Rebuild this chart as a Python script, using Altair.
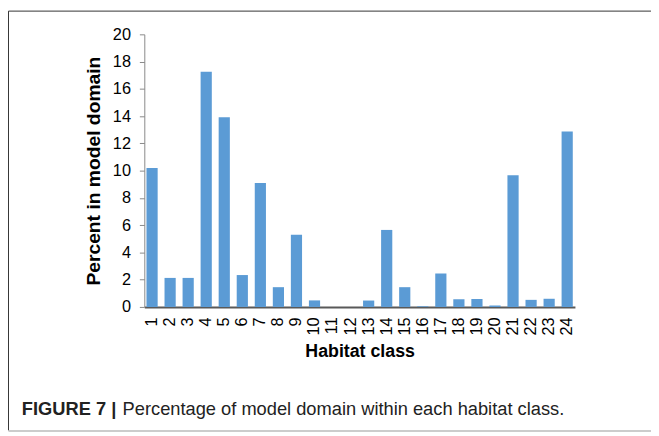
import altair as alt
import pandas as pd

classes = [str(i) for i in range(1, 25)]
percent = [10.2, 2.13, 2.13, 17.25, 13.92, 2.34, 9.09, 1.45, 5.3, 0.48, 0.0, 0.0,
           0.47, 5.65, 1.45, 0.05, 2.45, 0.57, 0.59, 0.1, 9.67, 0.52, 0.6, 12.88]

caption_bold = "FIGURE 7 |"
caption_rest = "Percentage of model domain within each habitat class."

df = pd.DataFrame({"cls": classes, "pct": percent})

W, H = 436, 276
FONT = "Liberation Sans"

bars = alt.Chart(df).mark_bar(color="#5B9BD5").encode(
    x=alt.X("cls:N", sort=classes,
            scale=alt.Scale(paddingInner=0.38, paddingOuter=0.12),
            axis=alt.Axis(title="Habitat class", labelAngle=270, labelFont=FONT,
                          labelFontSize=16.5, labelColor="#000", labelPadding=10,
                          ticks=False, domainColor="#595959", domainWidth=2,
                          titleFont=FONT, titleFontSize=18, titleFontWeight="bold",
                          titleColor="#000", titlePadding=8, labelBaseline="middle")),
    y=alt.Y("pct:Q", scale=alt.Scale(domain=[0, 20], nice=False),
            axis=alt.Axis(title="Percent in model domain", values=list(range(0, 21, 2)),
                          grid=False, labelFont=FONT, labelFontSize=16.5, labelColor="#000",
                          tickSize=5, tickColor="#888", domainColor="#888",
                          labelPadding=9, titleFont=FONT, titleFontSize=19.5,
                          titleFontWeight="bold", titleColor="#000", titlePadding=9)),
)

frame_df = pd.DataFrame({"a": [0]})
left = alt.Chart(frame_df).mark_rule(color="#333", strokeWidth=1).encode(
    x=alt.value(-137.5), y=alt.value(-23.5), y2=alt.value(401))
top = alt.Chart(frame_df).mark_rule(color="#333", strokeWidth=1).encode(
    x=alt.value(-137.5), x2=alt.value(513), y=alt.value(-23.5))
bottom = alt.Chart(frame_df).mark_rule(color="#bbb", strokeWidth=1.5).encode(
    x=alt.value(-137.5), x2=alt.value(513), y=alt.value(401.5))

cap1 = alt.Chart(frame_df).mark_text(align="left", baseline="alphabetic", font=FONT,
                                     fontSize=18.5, fontWeight="bold", color="#222").encode(
    x=alt.value(-124), y=alt.value(385), text=alt.value(caption_bold))
cap2 = alt.Chart(frame_df).mark_text(align="left", baseline="alphabetic", font=FONT,
                                     fontSize=18.5, color="#222").encode(
    x=alt.value(-22), y=alt.value(385), text=alt.value(caption_rest))

chart = alt.layer(bars, left, top, bottom, cap1, cap2).properties(
    width=W, height=H,
    autosize=alt.AutoSizeParams(type="none"),
    padding={"left": 138, "top": 24, "right": 77, "bottom": 128},
    background="white",
).configure_view(stroke=None)

chart.save("out.html", embed_options={"renderer": "svg", "actions": False})
